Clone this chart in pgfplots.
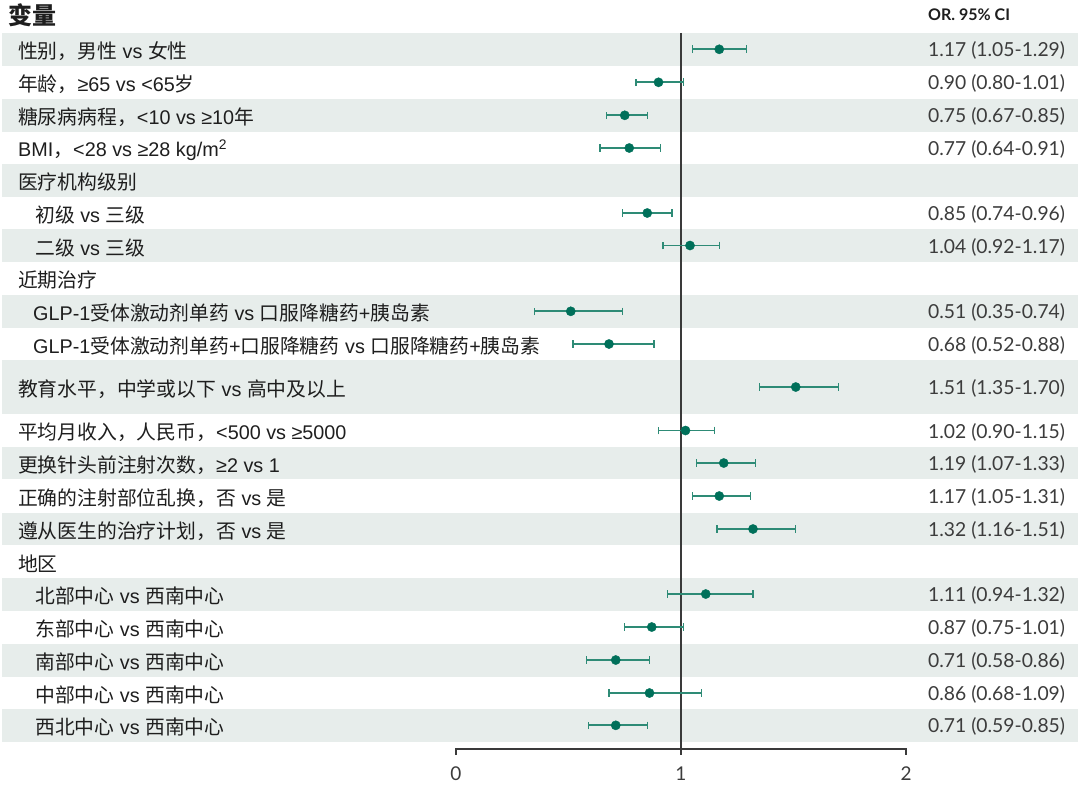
\documentclass[border=0pt]{standalone}
\usepackage{pgfplots}
\usepackage{pgfplotstable}
\pgfplotsset{compat=1.18}
\usepackage{fontspec}
\setmainfont{Noto Sans CJK SC}
\newfontfamily\orfont{Lato}
\newfontfamily\lat{Liberation Sans}
\newcommand\La[1]{{\lat #1}}
\definecolor{band}{HTML}{E7EDEB}
\definecolor{dotc}{HTML}{00705A}
\definecolor{cic}{HTML}{2E8B76}
\definecolor{txt}{HTML}{1E1E1E}
\definecolor{ortxt}{HTML}{3C3C3C}
\definecolor{axc}{HTML}{3A3A3A}
\tikzset{
  lab/.style={anchor=west, inner sep=0pt, yshift=-2pt, text=txt, font=\fontsize{19.8pt}{22pt}\selectfont},
  ort/.style={anchor=west, inner sep=0pt, yshift=-1.5pt, text=ortxt, font=\orfont\fontsize{19.3pt}{21pt}\selectfont},
}

\pgfplotstableread{
y or lo hi
49.3 1.17 1.05 1.29
82.3 0.90 0.80 1.01
115.3 0.75 0.67 0.85
148.0 0.77 0.64 0.91
213.0 0.85 0.74 0.96
245.5 1.04 0.92 1.17
311.3 0.51 0.35 0.74
344.0 0.68 0.52 0.88
387.0 1.51 1.35 1.70
430.5 1.02 0.90 1.15
463.0 1.19 1.07 1.33
496.0 1.17 1.05 1.31
529.0 1.32 1.16 1.51
594.0 1.11 0.94 1.32
627.0 0.87 0.75 1.01
660.0 0.71 0.58 0.86
693.0 0.86 0.68 1.09
725.3 0.71 0.59 0.85
}\ortable

\begin{document}
\begin{tikzpicture}
\begin{axis}[
  scale only axis, width=1080pt, height=786pt,
  xmin=-2.026667, xmax=2.773333,
  ymin=0, ymax=786, y dir=reverse,
  hide axis, clip=false,
]
\path (rel axis cs:0,0) rectangle (rel axis cs:1,1);
% bands
\fill[band] (axis cs:-2.0178,33) rectangle (axis cs:2.7644,66);
\fill[band] (axis cs:-2.0178,99) rectangle (axis cs:2.7644,131.7);
\fill[band] (axis cs:-2.0178,164) rectangle (axis cs:2.7644,196.7);
\fill[band] (axis cs:-2.0178,229.3) rectangle (axis cs:2.7644,261.7);
\fill[band] (axis cs:-2.0178,295) rectangle (axis cs:2.7644,327.7);
\fill[band] (axis cs:-2.0178,360) rectangle (axis cs:2.7644,414.3);
\fill[band] (axis cs:-2.0178,446.7) rectangle (axis cs:2.7644,479.3);
\fill[band] (axis cs:-2.0178,512.7) rectangle (axis cs:2.7644,545.3);
\fill[band] (axis cs:-2.0178,577.7) rectangle (axis cs:2.7644,610.7);
\fill[band] (axis cs:-2.0178,644) rectangle (axis cs:2.7644,676.7);
\fill[band] (axis cs:-2.0178,709) rectangle (axis cs:2.7644,741.7);
% reference line and axis
\draw[axc, line width=1.6pt] (axis cs:1,33) -- (axis cs:1,755);
\draw[axc, line width=1.3pt] (axis cs:0,755) -- (axis cs:0,749) -- (axis cs:2,749) -- (axis cs:2,755);
\node[text=ortxt, font=\orfont\fontsize{19pt}{22pt}\selectfont] at (axis cs:0,774) {0};
\node[text=ortxt, font=\orfont\fontsize{19pt}{22pt}\selectfont] at (axis cs:1,774) {1};
\node[text=ortxt, font=\orfont\fontsize{19pt}{22pt}\selectfont] at (axis cs:2,774) {2};

\addplot[only marks, mark=*, mark size=4.6pt, mark options={fill=dotc, draw=dotc},
  error bars/.cd, x dir=both, x explicit, error mark=|,
  error bar style={cic, line width=1.8pt},
  error mark options={cic, line width=1.3pt, mark size=3.8pt}]
  table[x=or, y=y, x error plus expr=\thisrow{hi}-\thisrow{or}, x error minus expr=\thisrow{or}-\thisrow{lo}] {\ortable};

% headers
\node[anchor=west, inner sep=0pt, text=txt, font=\bfseries\fontsize{24pt}{26pt}\selectfont] at (axis cs:-1.991,15) {变量};
\node[anchor=west, inner sep=0pt, text=txt, font=\orfont\bfseries\fontsize{16pt}{18pt}\selectfont] at (axis cs:2.0978,15) {OR. 95\% CI};

% labels
\node[lab] at (axis cs:-1.9467,49.3) {性别，男性\La{ vs }女性};
\node[lab] at (axis cs:-1.9467,82.3) {年龄，\La{≥65 vs <65}岁};
\node[lab] at (axis cs:-1.9467,115.3) {糖尿病病程，\La{<10 vs ≥10}年};
\node[lab] at (axis cs:-1.9467,148) {\La{BMI}，\La{<28 vs ≥28 kg/m\textsuperscript{2}}};
\node[lab] at (axis cs:-1.9467,180.3) {医疗机构级别};
\node[lab] at (axis cs:-1.8711,213) {初级\La{ vs }三级};
\node[lab] at (axis cs:-1.8711,245.5) {二级\La{ vs }三级};
\node[lab] at (axis cs:-1.9467,278) {近期治疗};
\node[lab] at (axis cs:-1.8800,311.3) {\La{GLP-1}受体激动剂单药\La{ vs }口服降糖药\La{+}胰岛素};
\node[lab] at (axis cs:-1.8800,344) {\La{GLP-1}受体激动剂单药\La{+}口服降糖药\La{ vs }口服降糖药\La{+}胰岛素};
\node[lab] at (axis cs:-1.9467,387) {教育水平，中学或以下\La{ vs }高中及以上};
\node[lab] at (axis cs:-1.9467,430.5) {平均月收入，人民币，\La{<500 vs ≥5000}};
\node[lab] at (axis cs:-1.9467,463) {更换针头前注射次数，\La{≥2 vs 1}};
\node[lab] at (axis cs:-1.9467,496) {正确的注射部位乱换，否\La{ vs }是};
\node[lab] at (axis cs:-1.9467,529) {遵从医生的治疗计划，否\La{ vs }是};
\node[lab] at (axis cs:-1.9467,561.5) {地区};
\node[lab] at (axis cs:-1.8711,594) {北部中心\La{ vs }西南中心};
\node[lab] at (axis cs:-1.8711,627) {东部中心\La{ vs }西南中心};
\node[lab] at (axis cs:-1.8711,660) {南部中心\La{ vs }西南中心};
\node[lab] at (axis cs:-1.8711,693) {中部中心\La{ vs }西南中心};
\node[lab] at (axis cs:-1.8711,725.3) {西北中心\La{ vs }西南中心};

% OR text
\node[ort] at (axis cs:2.0978,49.3) {1.17 (1.05-1.29)};
\node[ort] at (axis cs:2.0978,82.3) {0.90 (0.80-1.01)};
\node[ort] at (axis cs:2.0978,115.3) {0.75 (0.67-0.85)};
\node[ort] at (axis cs:2.0978,148) {0.77 (0.64-0.91)};
\node[ort] at (axis cs:2.0978,213) {0.85 (0.74-0.96)};
\node[ort] at (axis cs:2.0978,245.5) {1.04 (0.92-1.17)};
\node[ort] at (axis cs:2.0978,311.3) {0.51 (0.35-0.74)};
\node[ort] at (axis cs:2.0978,344) {0.68 (0.52-0.88)};
\node[ort] at (axis cs:2.0978,387) {1.51 (1.35-1.70)};
\node[ort] at (axis cs:2.0978,430.5) {1.02 (0.90-1.15)};
\node[ort] at (axis cs:2.0978,463) {1.19 (1.07-1.33)};
\node[ort] at (axis cs:2.0978,496) {1.17 (1.05-1.31)};
\node[ort] at (axis cs:2.0978,529) {1.32 (1.16-1.51)};
\node[ort] at (axis cs:2.0978,594) {1.11 (0.94-1.32)};
\node[ort] at (axis cs:2.0978,627) {0.87 (0.75-1.01)};
\node[ort] at (axis cs:2.0978,660) {0.71 (0.58-0.86)};
\node[ort] at (axis cs:2.0978,693) {0.86 (0.68-1.09)};
\node[ort] at (axis cs:2.0978,725.3) {0.71 (0.59-0.85)};
\end{axis}
\end{tikzpicture}
\end{document}
